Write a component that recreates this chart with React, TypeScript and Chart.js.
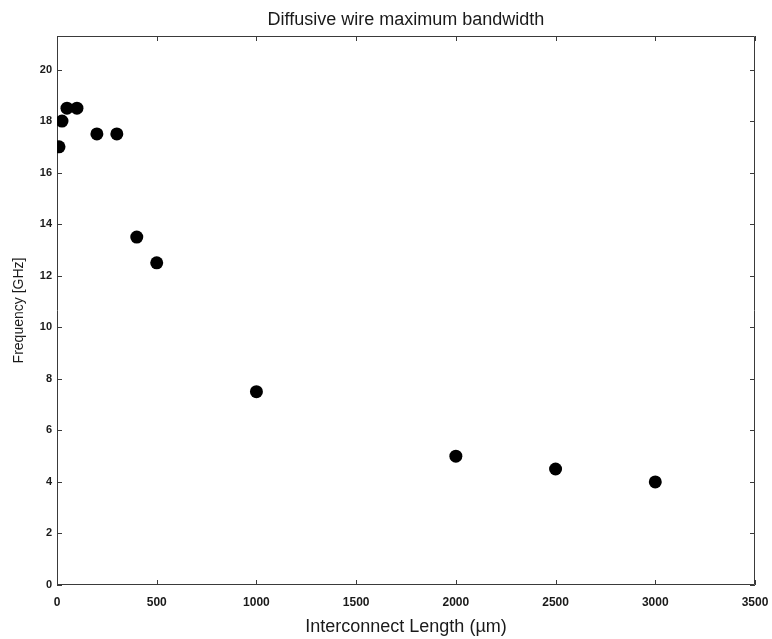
import { useEffect, useRef } from "react";
import { Chart, registerables } from "chart.js";

Chart.register(...registerables);

// Interconnect length (µm) and the measured maximum bandwidth (GHz)
const lengthsUm = [10, 25, 50, 100, 200, 300, 400, 500, 1000, 2000, 2500, 3000];
const bandwidthGHz = [17, 18, 18.5, 18.5, 17.5, 17.5, 13.5, 12.5, 7.5, 5, 4.5, 4];

const xTickValues = [0, 500, 1000, 1500, 2000, 2500, 3000, 3500];
const yTickValues = [0, 2, 4, 6, 8, 10, 12, 14, 16, 18, 20];

const chartTitle = "Diffusive wire maximum bandwidth";
const xAxisTitle = "Interconnect Length (\u00b5m)";
const yAxisTitle = "Frequency [GHz]";

const FONT = "'Liberation Sans', Arial, Helvetica, sans-serif";
const INK = "#1a1a1a";
const FRAME = "#3a3a3a";

// Boxed axes with short inward tick marks on all four sides, plus the title
const framePlugin = {
  id: "frameBox",
  beforeDatasetsDraw(chart: any) {
    const { ctx, chartArea, scales } = chart;
    const { left, right, top, bottom } = chartArea;
    const tick = 5;
    ctx.save();
    ctx.strokeStyle = FRAME;
    ctx.lineWidth = 1;
    ctx.beginPath();
    ctx.rect(left + 0.5, top + 0.5, right - left - 1, bottom - top - 1);
    for (const v of xTickValues) {
      const px = Math.round(scales.x.getPixelForValue(v)) + 0.5;
      ctx.moveTo(px, bottom);
      ctx.lineTo(px, bottom - tick);
      ctx.moveTo(px, top);
      ctx.lineTo(px, top + tick);
    }
    for (const v of yTickValues) {
      const py = Math.round(scales.y.getPixelForValue(v)) + 0.5;
      ctx.moveTo(left, py);
      ctx.lineTo(left + tick, py);
      ctx.moveTo(right, py);
      ctx.lineTo(right - tick, py);
    }
    ctx.stroke();
    ctx.restore();
  },
  afterDraw(chart: any) {
    const { ctx, chartArea } = chart;
    ctx.save();
    ctx.fillStyle = INK;
    ctx.font = `18px ${FONT}`;
    ctx.textAlign = "center";
    ctx.textBaseline = "alphabetic";
    ctx.fillText(chartTitle, (chartArea.left + chartArea.right) / 2, 25);
    ctx.restore();
  },
};

export default function App() {
  const canvasRef = useRef<HTMLCanvasElement | null>(null);

  useEffect(() => {
    const canvas = canvasRef.current;
    if (!canvas) return;
    const chart = new Chart(canvas, {
      type: "scatter",
      data: {
        datasets: [
          {
            label: "Maximum bandwidth",
            data: lengthsUm.map((x, i) => ({ x, y: bandwidthGHz[i] })),
            backgroundColor: "#000000",
            borderColor: "#000000",
            pointRadius: 6.5,
            pointHoverRadius: 6.5,
            borderWidth: 0,
          },
        ],
      },
      options: {
        animation: false,
        responsive: false,
        devicePixelRatio: 1,
        layout: { padding: { top: 36, right: 17, left: 0, bottom: 0 } },
        plugins: {
          legend: { display: false },
          title: { display: false },
          tooltip: { enabled: false },
        },
        scales: {
          x: {
            type: "linear",
            min: 0,
            max: 3500,
            afterBuildTicks: (scale: any) => {
              scale.ticks = xTickValues.map((value) => ({ value }));
            },
            afterFit: (scale: any) => {
              scale.height = 54;
              scale.paddingLeft = 0;
              scale.paddingRight = 0;
            },
            grid: { display: false, drawTicks: false },
            border: { display: false },
            ticks: {
              padding: 10,
              color: INK,
              font: { family: FONT, size: 12, weight: "bold" },
              maxRotation: 0,
              callback: (v: any) => String(v),
            },
            title: {
              display: true,
              text: xAxisTitle,
              color: INK,
              font: { family: FONT, size: 18 },
              padding: { top: 0, bottom: 1 },
            },
          },
          y: {
            type: "linear",
            min: 0,
            max: 21.3,
            afterBuildTicks: (scale: any) => {
              scale.ticks = yTickValues.map((value) => ({ value }));
            },
            afterFit: (scale: any) => {
              scale.width = 57;
              scale.paddingTop = 0;
              scale.paddingBottom = 0;
            },
            grid: { display: false, drawTicks: false },
            border: { display: false },
            ticks: {
              padding: 5,
              color: INK,
              font: { family: FONT, size: 11, weight: "bold" },
              callback: (v: any) => String(v),
            },
            title: {
              display: true,
              text: yAxisTitle,
              color: INK,
              font: { family: FONT, size: 14 },
              padding: { top: 11, bottom: 0 },
            },
          },
        },
      },
      plugins: [framePlugin],
    });
    return () => chart.destroy();
  }, []);

  return (
    <div
      style={{
        position: "absolute",
        left: 0,
        top: 0,
        width: 772,
        height: 639,
        background: "#ffffff",
      }}
    >
      <canvas ref={canvasRef} width={772} height={639} />
    </div>
  );
}
